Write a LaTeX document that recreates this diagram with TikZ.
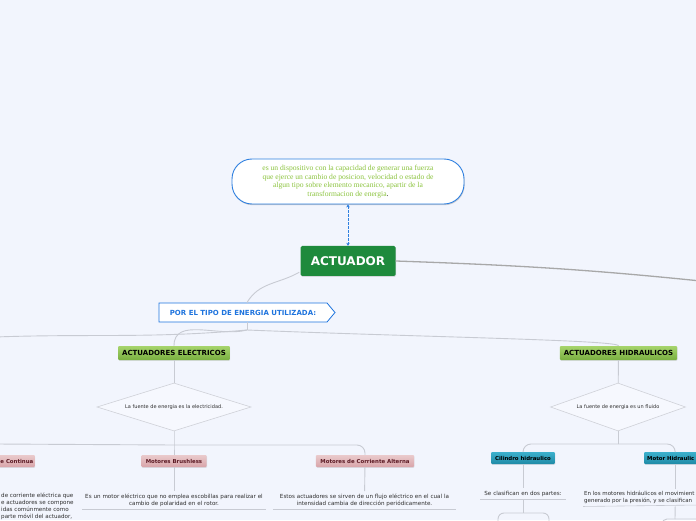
\documentclass[tikz,border=0pt]{standalone}
\usepackage{fontspec}
\setmainfont{DejaVu Sans}
\newfontfamily\glossfont{Liberation Serif}
\usetikzlibrary{arrows.meta,positioning,shapes.geometric,shapes.symbols,shadows}
\definecolor{pagebg}{HTML}{F2F5FD}
\definecolor{calblue}{HTML}{2F80E0}
\definecolor{glossgreen}{HTML}{8CC43F}
\definecolor{rootgreen}{HTML}{1E8A3C}
\definecolor{tagblue}{HTML}{1E74DE}
\definecolor{greentop}{HTML}{A6D46C}
\definecolor{greenbot}{HTML}{79AF40}
\definecolor{pinktop}{HTML}{EACACC}
\definecolor{pinkbot}{HTML}{D8A4A9}
\definecolor{pinktext}{HTML}{5C1A24}
\definecolor{tealtop}{HTML}{3CB0CC}
\definecolor{tealbot}{HTML}{1F8AA6}
\definecolor{linkgrey}{HTML}{C8CBD3}
\definecolor{maingrey}{HTML}{A8A8A8}
\definecolor{askgrey}{HTML}{CFD1D8}
\definecolor{askfill}{HTML}{F6F8FE}
\definecolor{notegrey}{HTML}{2E2E2E}
\tikzset{
  callout/.style  = {draw=calblue, line width=0.9pt, fill=white, rounded corners=20pt,
                     minimum width=232, minimum height=45, align=center, text=glossgreen,
                     font=\glossfont\fontsize{7.6}{8.7}\selectfont,
                     drop shadow={shadow xshift=0.6pt, shadow yshift=-1.2pt, opacity=0.35}},
  rootbox/.style  = {fill=rootgreen, rounded corners=1.5pt, minimum width=95, minimum height=30,
                     text=white, font=\bfseries\fontsize{12}{14}\selectfont,
                     drop shadow={shadow xshift=0.5pt, shadow yshift=-1pt, opacity=0.25}},
  tagbox/.style   = {signal, signal to=east, signal pointer angle=100, draw=tagblue,
                     line width=0.8pt, fill=white, minimum width=176, minimum height=19,
                     text=tagblue, font=\bfseries\fontsize{7}{8}\selectfont},
  groupbox/.style = {top color=greentop, bottom color=greenbot, rounded corners=1pt,
                     minimum height=14, inner xsep=4, inner ysep=0, text=black,
                     font=\bfseries\fontsize{7}{8}\selectfont,
                     drop shadow={shadow xshift=0.4pt, shadow yshift=-0.8pt, opacity=0.2}},
  askbox/.style   = {diamond, aspect=3.2, draw=askgrey, line width=0.6pt, fill=askfill,
                     minimum width=154, minimum height=48, inner sep=0pt,
                     text=notegrey, font=\fontsize{5}{6}\selectfont},
  motorbox/.style = {top color=pinktop, bottom color=pinkbot, rounded corners=1pt,
                     minimum height=12, inner xsep=4.5, inner ysep=0, text=pinktext,
                     font=\bfseries\fontsize{5.4}{6}\selectfont,
                     drop shadow={shadow xshift=0.4pt, shadow yshift=-0.8pt, opacity=0.2}},
  hydbox/.style   = {top color=tealtop, bottom color=tealbot, rounded corners=1pt,
                     minimum height=12, inner xsep=4, inner ysep=0, text=black,
                     font=\bfseries\fontsize{5.4}{6}\selectfont,
                     drop shadow={shadow xshift=0.4pt, shadow yshift=-0.8pt, opacity=0.2}},
  note/.style     = {align=center, inner xsep=1, inner ysep=2.5, text=notegrey,
                     font=\fontsize{5.6}{7}\selectfont},
  link/.style     = {draw=linkgrey, line width=0.9pt},
  mainlink/.style = {draw=maingrey, line width=1.3pt},
  deflink/.style  = {draw=calblue, line width=0.7pt, dash pattern=on 2.5pt off 1.5pt,
                     {Stealth[length=3pt,width=3.5pt]}-{Stealth[length=3pt,width=3.5pt]}},
  rule/.style     = {draw=linkgrey, line width=0.6pt},
}

\begin{document}
\begin{tikzpicture}[x=1pt,y=1pt]
\fill[pagebg] (0,0) rectangle (696,520);
\useasboundingbox (0,0) rectangle (696,520);
\clip (0,0) rectangle (696,520);

% definition and root
\node[callout] (def) at (348,338.5)
  {es un dispositivo con la capacidad de generar una fuerza\\
   que ejerce un cambio de posicion, velocidad o estado de\\
   algun tipo sobre elemento mecanico, apartir de la\\
   transformacion de energia\textcolor{black}{.}};
\node[rootbox] (act) at (348,259) {ACTUADOR};
\coordinate (offr) at (720,237);
\draw[mainlink] (act.east) to[out=-2,in=174] (offr);
\draw[deflink] (def) -- (act);

% first level
\node[tagbox] (por) at (243,207.5) {POR EL TIPO DE ENERGIA UTILIZADA:};
\node[groupbox] (ele) at (174,167) {ACTUADORES ELECTRICOS};
\node[groupbox] (hid) at (618.5,167) {ACTUADORES HIDRAULICOS};
\coordinate (bpor) at (247,190);
\coordinate (offl) at (-5,183);
\draw[link] ([shift={(-1,4)}]act.south west) to[out=210,in=60] (bpor |- por.north);
\draw[link] (bpor |- por.south) -- (bpor);
\draw[link] (bpor) to[out=185,in=2] (offl);
\draw[link] (bpor) to[out=195,in=90] (ele.north);
\draw[link] (bpor) .. controls (420,183) and (618.5,180) .. (hid.north);

% electric branch
\node[askbox] (ask1) at (174,113) {La fuente de energia es la electricidad.};
\draw[link] (ele) -- (ask1);
\coordinate (bele) at (174,75);
\coordinate (offl2) at (-5,76);
\node[motorbox,anchor=east,inner xsep=1.5] (mcc) at (35,59) {e Continua};
\node[motorbox] (mbl) at (174,59) {Motores Brushless};
\node[motorbox] (mca) at (365,59) {Motores de Corriente Alterna};
\draw[link] (ask1.south) -- (bele) -- (mbl.north);
\draw[link] (bele) -- (offl2);
\draw[link,rounded corners=8pt] (bele) -- (mca.north |- bele) -- (mca.north);

\node[note,anchor=west,align=left] (tcc) at (0,13.8)
  {de corriente eléctrica que\\e actuadores se compone\\idas comúnmente como\\parte móvil del actuador,};
\node[note,text width=181] (tbl) at (174,19.9)
  {Es un motor eléctrico que no emplea escobillas para realizar el\\cambio de polaridad en el rotor.};
\node[note,text width=181] (tca) at (364.5,19.9)
  {Estos actuadores se sirven de un flujo eléctrico en el cual la\\intensidad cambia de dirección periódicamente.};
\draw[link] (mbl) -- (tbl);
\draw[link] (mca) -- (tca);
\draw[rule] (tbl.south west) -- (tbl.south east);
\draw[rule] (tca.south west) -- (tca.south east);

% hydraulic branch
\node[askbox,minimum width=135] (ask2) at (618,113) {La fuente de energia es un fluido};
\draw[link] (hid) -- (ask2);
\coordinate (bhid) at (618,76);
\node[hydbox] (cil) at (523,62) {Cilindro hidraulico};
\node[hydbox,anchor=west,text width=56,align=left,inner xsep=3] (mhy) at (644,62) {Motor Hidraulic};
\draw[link] (ask2.south) -- (bhid);
\draw[link,rounded corners=8pt] (bhid) -- (cil.north |- bhid) -- (cil.north);
\draw[link,rounded corners=8pt] (bhid) -- (mhy.north |- bhid) -- (mhy.north);

\node[note,text width=83] (tcil) at (523,26.4) {Se clasifican en dos partes:};
\draw[link] (cil) -- (tcil);
\draw[rule] (tcil.south west) -- (tcil.south east);
\coordinate (bcil) at (523,7);
\coordinate (cl) at (498,-6);
\coordinate (cr) at (549,-6);
\draw[link] (tcil.south) -- (bcil);
\draw[link,rounded corners=6pt] (cl) -- (cl |- bcil) -- (cr |- bcil) -- (cr);

\node[note,anchor=west,align=left,font=\fontsize{5.5}{7}\selectfont] (tmhy) at (583,22.5)
  {En los motores hidráulicos el movimient\\generado por la presión, y se clasifican};
\draw[link] (mhy.south) -- (mhy.south |- tmhy.north);
\coordinate (tmend) at (700,15);
\draw[rule] (tmhy.south west) -- (tmend);
\coordinate (bmh) at (675,1);
\coordinate (ml) at (662,-6);
\coordinate (mr) at (700,1);
\draw[link] (mhy.south |- tmhy.south) -- (bmh);
\draw[link,rounded corners=5pt] (ml) -- (ml |- bmh) -- (mr);
\end{tikzpicture}
\end{document}
